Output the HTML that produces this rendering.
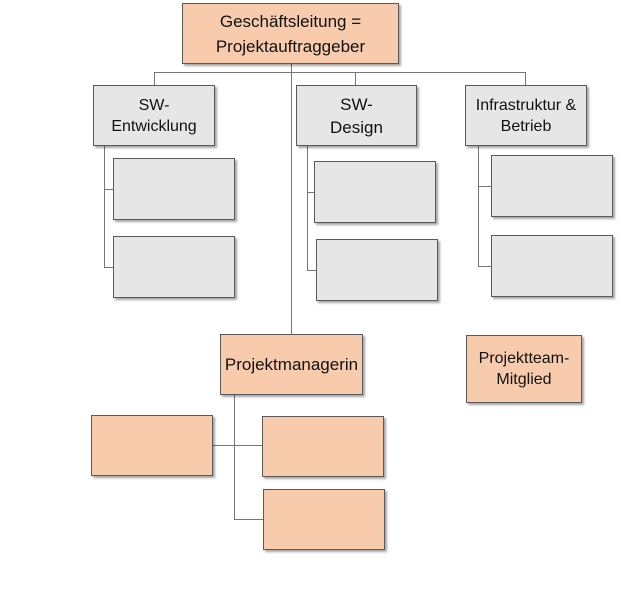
<!DOCTYPE html>
<html><head><meta charset="utf-8"><style>
body{margin:0;width:622px;height:600px;background:#fff;position:relative;overflow:hidden;font-family:"Liberation Sans",sans-serif}
.b{position:absolute;box-sizing:border-box;border:1px solid #5a5a5a;box-shadow:2px 2px 2px rgba(0,0,0,.35);display:flex;align-items:center;justify-content:center;text-align:center;font-size:16px;line-height:21px;color:#111}
.o{background:#f8cbad}.g{background:#e6e6e6}
.l{position:absolute;background:#777}
.h{height:1px}.v{width:1px}
</style></head><body>
<div class="l h" style="left:154px;top:72px;width:372px"></div>
<div class="l v" style="left:154px;top:72px;height:13px"></div>
<div class="l v" style="left:355px;top:72px;height:13px"></div>
<div class="l v" style="left:525px;top:72px;height:13px"></div>
<div class="l v" style="left:291px;top:63px;height:271px"></div>
<div class="l v" style="left:104px;top:145px;height:123px"></div>
<div class="l h" style="left:104px;top:189px;width:10px"></div>
<div class="l h" style="left:104px;top:267px;width:10px"></div>
<div class="l v" style="left:307px;top:146px;height:124px"></div>
<div class="l h" style="left:307px;top:192px;width:8px"></div>
<div class="l h" style="left:307px;top:270px;width:10px"></div>
<div class="l v" style="left:478px;top:145px;height:121px"></div>
<div class="l h" style="left:478px;top:186px;width:14px"></div>
<div class="l h" style="left:478px;top:266px;width:14px"></div>
<div class="l v" style="left:234px;top:394px;height:126px"></div>
<div class="l h" style="left:212px;top:445px;width:51px"></div>
<div class="l h" style="left:234px;top:519px;width:30px"></div>
<div class="b o" style="left:182px;top:3px;width:217px;height:61px;font-size:17px;line-height:25px">Geschäftsleitung =<br>Projektauftraggeber</div>
<div class="b g" style="left:93px;top:85px;width:122px;height:61px">SW-<br>Entwicklung</div>
<div class="b g" style="left:296px;top:85px;width:121px;height:61px;font-size:17px;line-height:23px">SW-<br>Design</div>
<div class="b g" style="left:465px;top:85px;width:122px;height:61px">Infrastruktur &amp;<br>Betrieb</div>
<div class="b g" style="left:113px;top:158px;width:122px;height:62px"></div>
<div class="b g" style="left:113px;top:236px;width:122px;height:62px"></div>
<div class="b g" style="left:314px;top:161px;width:122px;height:62px"></div>
<div class="b g" style="left:316px;top:239px;width:122px;height:62px"></div>
<div class="b g" style="left:491px;top:155px;width:122px;height:62px"></div>
<div class="b g" style="left:491px;top:235px;width:122px;height:62px"></div>
<div class="b o" style="left:220px;top:334px;width:143px;height:61px;font-size:17px">Projektmanagerin</div>
<div class="b o" style="left:466px;top:335px;width:116px;height:68px">Projektteam-<br>Mitglied</div>
<div class="b o" style="left:91px;top:415px;width:122px;height:61px"></div>
<div class="b o" style="left:262px;top:416px;width:122px;height:61px"></div>
<div class="b o" style="left:263px;top:489px;width:122px;height:61px"></div>
</body></html>
